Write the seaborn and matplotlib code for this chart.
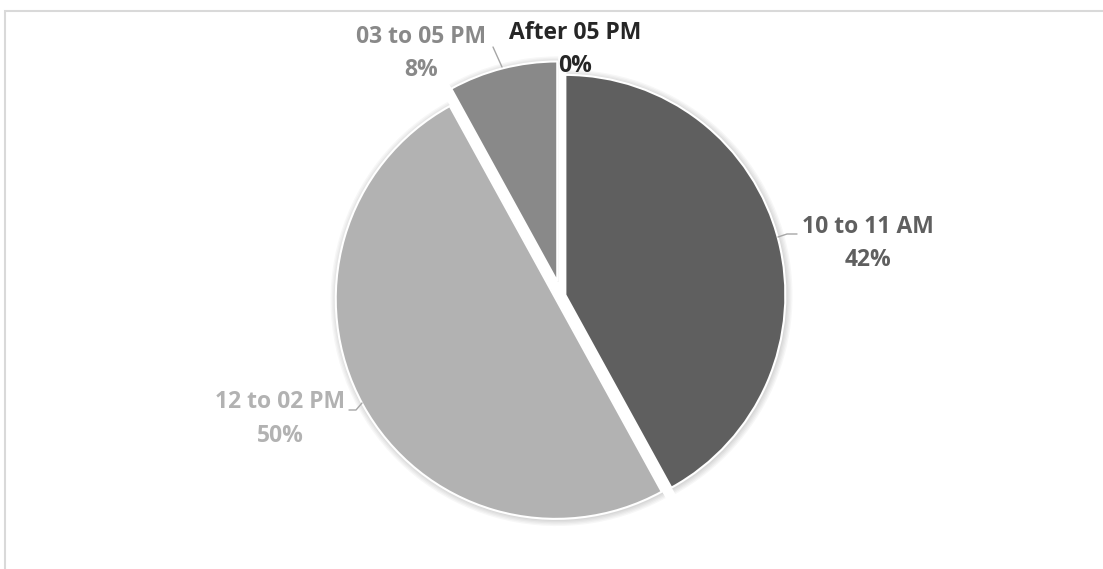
import matplotlib
matplotlib.use("Agg")
import matplotlib.pyplot as plt
import seaborn as sns
from matplotlib.patches import Rectangle

# data
slots = ["10 to 11 AM", "12 to 02 PM", "03 to 05 PM", "After 05 PM"]
shares = [42, 50, 8, 0]
slice_colors = ["#5f5f5f", "#b2b2b2", "#898989", "#262626"]
label_colors = ["#5f5f5f", "#b2b2b2", "#898989", "#262626"]

sns.set_theme(style="white")
plt.rcParams["font.family"] = ["Open Sans", "DejaVu Sans"]

W, H = 1103, 569
fig = plt.figure(figsize=(W / 100, H / 100), dpi=100)
ax = fig.add_axes([0, 0, 1, 1])


def py(y):
    # pixel row -> data y
    return H - y


cx, cy, R = 561, 296, 220
explode = [4.5, 6, 15, 0]  # pie offsets are in data units (pixels here)

# soft shadow under the slices
for k in range(5):
    ax.pie(shares, colors=["#000000"] * 4, startangle=90, counterclock=False,
           explode=explode, center=(cx + 1, py(cy + 1)), radius=R + 1 + k * 1.3,
           wedgeprops=dict(linewidth=0, alpha=0.03), frame=True)

wedges, _ = ax.pie(
    shares,
    colors=slice_colors,
    startangle=90,
    counterclock=False,
    explode=explode,
    center=(cx, py(cy)),
    radius=R,
    wedgeprops=dict(edgecolor="white", linewidth=1.5),
    frame=True,
)
ax.set_xlim(0, W)
ax.set_ylim(0, H)
ax.set_aspect("equal")
ax.axis("off")

# label positions (pixel centres) and leader lines
label_pos = [(868, 243), (280, 419), (421, 53), (575, 49)]
leaders = [
    [(778, 237), (787, 234), (797, 234)],
    [(349, 410), (356, 410), (362, 403)],
    [(493, 47), (502, 67)],
    None,
]

for name, val, col, (lx, ly), lead in zip(slots, shares, label_colors, label_pos, leaders):
    ax.text(lx, py(ly), f"{name}\n{val}%", ha="center", va="center",
            fontsize=16.5, fontweight="bold", color=col, linespacing=1.5)
    if lead:
        xs = [p[0] for p in lead]
        ys = [py(p[1]) for p in lead]
        ax.plot(xs, ys, color="#a6a6a6", lw=1)

# chart area border (only top and left visible)
fig.add_artist(Rectangle((5 / W, -0.1), 1.2, 1.1 - 11 / H,
                         transform=fig.transFigure, fill=False,
                         edgecolor="#d9d9d9", linewidth=1.5))

fig.savefig("out.png", dpi=100, facecolor="white")
